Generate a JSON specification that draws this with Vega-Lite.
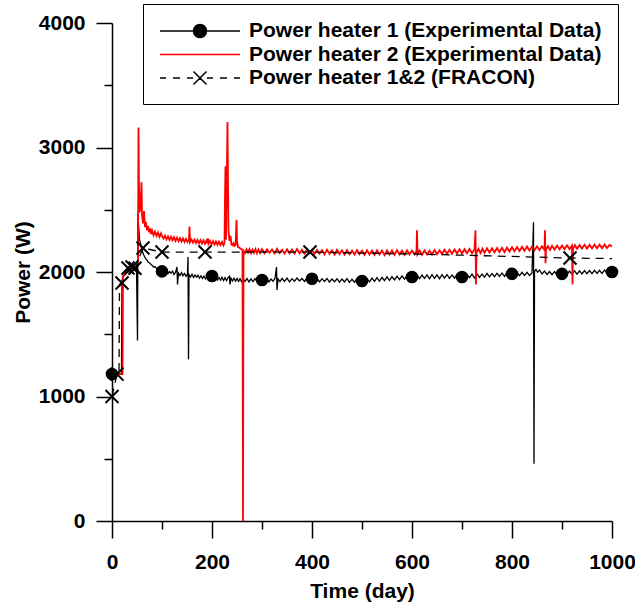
{
"$schema": "https://vega.github.io/schema/vega-lite/v6.json",
"width": 500, "height": 498,
"autosize": {"type": "none"},
"padding": {"left": 112, "top": 23, "right": 23, "bottom": 85},
"background": "white",
"config": {
  "view": {"stroke": null},
  "font": "Liberation Sans",
  "axis": {"domainColor": "black", "domainWidth": 1.5, "tickColor": "black", "tickWidth": 1.5, "labelColor": "black", "labelFont": "Liberation Sans", "labelFontSize": 21, "labelFontWeight": "bold", "titleFont": "Liberation Sans", "titleFontSize": 21, "titleFontWeight": "bold", "titleColor": "black", "grid": false, "labelFlush": false, "labelOverlap": false}
},
"datasets": {
"h1": [
{"d":0,"p":1180},{"d":5,"p":1182},{"d":10,"p":1178},{"d":15,"p":1180},{"d":19,"p":1181},{"d":20,"p":1930},{"d":22,"p":1965},{"d":25,"p":1985},{"d":28,"p":1995},{"d":31,"p":2005},{"d":34,"p":2000},{"d":37,"p":2012},{"d":40,"p":2015},{"d":43,"p":2010},{"d":46,"p":2022},{"d":49,"p":2035},{"d":51,"p":1450},{"d":52,"p":2470},{"d":53,"p":2380},{"d":55,"p":2260},{"d":57,"p":2230},{"d":59,"p":2190},{"d":61,"p":2165},{"d":63,"p":2140},{"d":65,"p":2125},{"d":67,"p":2110},{"d":70,"p":2095},{"d":72,"p":2080},{"d":75,"p":2075},{"d":78,"p":2060},{"d":80,"p":2055},{"d":83,"p":2040},{"d":86,"p":2042},{"d":89,"p":2030},{"d":92,"p":2025},{"d":95,"p":2018},{"d":98,"p":2012},
{"d":100,"p":2010},{"d":103,"p":2018},{"d":106,"p":1996},{"d":109,"p":2010},{"d":112,"p":1988},{"d":115,"p":2004},{"d":118,"p":1990},{"d":121,"p":2008},{"d":124,"p":1980},{"d":127,"p":1996},{"d":130,"p":2040},{"d":131,"p":1900},{"d":133,"p":1990},{"d":136,"p":1972},{"d":139,"p":1994},{"d":142,"p":1970},{"d":145,"p":1988},{"d":148,"p":1966},{"d":151,"p":1984},{"d":152,"p":2120},{"d":153,"p":1300},{"d":154,"p":1978},{"d":157,"p":1960},{"d":160,"p":1982},{"d":163,"p":1956},{"d":166,"p":1976},{"d":169,"p":1958},{"d":172,"p":1974},{"d":175,"p":1950},{"d":178,"p":1970},{"d":181,"p":1948},{"d":184,"p":1968},{"d":187,"p":1944},{"d":190,"p":1966},{"d":193,"p":1946},{"d":196,"p":1962},{"d":199,"p":1940},{"d":202,"p":1962},{"d":205,"p":1938},{"d":208,"p":1958},{"d":211,"p":1936},{"d":214,"p":1956},{"d":217,"p":1934},{"d":220,"p":1958},{"d":223,"p":1932},{"d":226,"p":1954},{"d":229,"p":1930},{"d":232,"p":1952},{"d":235,"p":1965},{"d":236,"p":1900},{"d":238,"p":1950},{"d":241,"p":1928},{"d":244,"p":1950},{"d":247,"p":1926},{"d":250,"p":1948},{"d":253,"p":1924},{"d":256,"p":1946},{"d":259,"p":1922},{"d":262,"p":1944},{"d":266,"p":1924},{"d":270,"p":1948},{"d":274,"p":1920},{"d":278,"p":1944},{"d":282,"p":1922},{"d":286,"p":1946},{"d":290,"p":1924},{"d":294,"p":1948},{"d":298,"p":1920},{"d":302,"p":1946},{"d":306,"p":1924},{"d":310,"p":1950},{"d":314,"p":1920},{"d":318,"p":1944},{"d":322,"p":1926},{"d":326,"p":1948},{"d":329,"p":2040},{"d":330,"p":1855},{"d":332,"p":1944},{"d":336,"p":1922},{"d":340,"p":1948},{"d":345,"p":1924},{"d":350,"p":1950},{"d":355,"p":1920},{"d":360,"p":1946},{"d":365,"p":1926},{"d":370,"p":1952},{"d":375,"p":1928},{"d":380,"p":1948},{"d":385,"p":1924},{"d":390,"p":1954},{"d":395,"p":1928},{"d":400,"p":1950},{"d":405,"p":1926},{"d":410,"p":1948},{"d":415,"p":1920},{"d":420,"p":1946},{"d":425,"p":1924},{"d":430,"p":1948},{"d":435,"p":1918},{"d":440,"p":1944},{"d":445,"p":1922},{"d":450,"p":1946},{"d":455,"p":1918},{"d":460,"p":1944},{"d":465,"p":1920},{"d":470,"p":1946},{"d":475,"p":1916},{"d":480,"p":1942},{"d":485,"p":1918},{"d":490,"p":1944},{"d":495,"p":1914},{"d":500,"p":1940},{"d":505,"p":1918},{"d":510,"p":1946},{"d":515,"p":1920},{"d":520,"p":1950},{"d":525,"p":1924},{"d":530,"p":1954},{"d":535,"p":1926},{"d":540,"p":1956},{"d":545,"p":1930},{"d":550,"p":1960},{"d":555,"p":1932},{"d":560,"p":1962},{"d":565,"p":1936},{"d":570,"p":1966},{"d":575,"p":1938},{"d":580,"p":1968},{"d":585,"p":1942},{"d":590,"p":1970},{"d":595,"p":1942},{"d":600,"p":1972},{"d":605,"p":1946},{"d":610,"p":1974},{"d":615,"p":1946},{"d":620,"p":1975},{"d":625,"p":1948},{"d":630,"p":1976},{"d":635,"p":1946},{"d":640,"p":1978},{"d":645,"p":1948},{"d":650,"p":1976},{"d":655,"p":1946},{"d":660,"p":1978},{"d":665,"p":1950},{"d":670,"p":1978},{"d":675,"p":1948},{"d":680,"p":1976},{"d":685,"p":1950},{"d":690,"p":1980},{"d":695,"p":1950},{"d":700,"p":1976},{"d":705,"p":1952},{"d":710,"p":1980},{"d":715,"p":1954},{"d":720,"p":1982},{"d":725,"p":1952},{"d":730,"p":1984},{"d":735,"p":1956},{"d":740,"p":1984},{"d":745,"p":1958},{"d":750,"p":1988},{"d":755,"p":1960},{"d":760,"p":1988},{"d":765,"p":1962},{"d":770,"p":1990},{"d":775,"p":1964},{"d":780,"p":1992},{"d":785,"p":1964},{"d":790,"p":1994},{"d":795,"p":1968},{"d":800,"p":1996},{"d":805,"p":1970},{"d":810,"p":1996},{"d":815,"p":1970},{"d":820,"p":1998},{"d":825,"p":1972},{"d":830,"p":1998},{"d":835,"p":1972},{"d":840,"p":1992},{"d":843,"p":2400},{"d":844,"p":460},{"d":845,"p":2005},{"d":848,"p":2020},{"d":851,"p":1998},{"d":855,"p":2016},{"d":860,"p":1984},{"d":865,"p":2008},{"d":870,"p":1980},{"d":875,"p":2004},{"d":880,"p":1978},{"d":885,"p":2004},{"d":890,"p":1976},{"d":895,"p":2002},{"d":900,"p":1978},{"d":905,"p":2006},{"d":910,"p":1980},{"d":915,"p":2008},{"d":920,"p":1982},{"d":925,"p":2010},{"d":930,"p":1982},{"d":935,"p":2010},{"d":940,"p":1984},{"d":945,"p":2012},{"d":950,"p":1986},{"d":955,"p":2012},{"d":960,"p":1986},{"d":965,"p":2014},{"d":970,"p":1988},{"d":975,"p":2014},{"d":980,"p":1988},{"d":985,"p":2015},{"d":990,"p":1990},{"d":995,"p":2014},{"d":1000,"p":2000}
],
"h2": [
{"d":0,"p":1180},{"d":5,"p":1178},{"d":10,"p":1182},{"d":15,"p":1180},{"d":21,"p":1180},{"d":22,"p":1960},{"d":25,"p":1978},{"d":28,"p":1990},{"d":31,"p":2000},{"d":34,"p":2008},{"d":37,"p":2015},{"d":40,"p":2020},{"d":43,"p":2028},{"d":46,"p":2035},{"d":49,"p":2045},{"d":52,"p":2100},{"d":53,"p":3160},{"d":54,"p":2700},{"d":55,"p":2480},{"d":57,"p":2520},{"d":59,"p":2720},{"d":60,"p":2460},{"d":62,"p":2390},{"d":64,"p":2490},{"d":66,"p":2360},{"d":68,"p":2400},{"d":70,"p":2335},{"d":72,"p":2370},{"d":74,"p":2320},{"d":76,"p":2350},{"d":78,"p":2305},{"d":80,"p":2335},{"d":83,"p":2295},{"d":86,"p":2325},{"d":89,"p":2290},{"d":92,"p":2318},{"d":95,"p":2282},{"d":98,"p":2310},
{"d":100,"p":2290},{"d":103,"p":2268},{"d":106,"p":2292},{"d":109,"p":2262},{"d":112,"p":2286},{"d":115,"p":2258},{"d":118,"p":2284},{"d":121,"p":2255},{"d":124,"p":2280},{"d":127,"p":2250},{"d":130,"p":2276},{"d":133,"p":2248},{"d":136,"p":2272},{"d":139,"p":2245},{"d":142,"p":2270},{"d":145,"p":2242},{"d":148,"p":2266},{"d":151,"p":2240},{"d":154,"p":2262},{"d":155,"p":2365},{"d":156,"p":2240},{"d":159,"p":2262},{"d":162,"p":2236},{"d":165,"p":2260},{"d":168,"p":2232},{"d":171,"p":2258},{"d":174,"p":2230},{"d":177,"p":2256},{"d":180,"p":2228},{"d":183,"p":2254},{"d":186,"p":2226},{"d":189,"p":2252},{"d":191,"p":2232},{"d":192,"p":2270},{"d":193,"p":2226},{"d":196,"p":2250},{"d":199,"p":2222},{"d":202,"p":2248},{"d":205,"p":2220},{"d":208,"p":2246},{"d":211,"p":2218},{"d":214,"p":2244},{"d":217,"p":2216},{"d":220,"p":2242},{"d":223,"p":2214},{"d":225,"p":2236},{"d":226,"p":2600},{"d":227,"p":2850},{"d":228,"p":2260},{"d":230,"p":2900},{"d":231,"p":3205},{"d":232,"p":2700},{"d":233,"p":2330},{"d":235,"p":2250},{"d":237,"p":2290},{"d":239,"p":2220},{"d":241,"p":2215},{"d":243,"p":2230},{"d":245,"p":2210},{"d":247,"p":2215},{"d":248,"p":2300},{"d":249,"p":2420},{"d":250,"p":2250},{"d":252,"p":2200},{"d":255,"p":2195},{"d":258,"p":2185},{"d":260,"p":2180},{"d":261,"p":2175},{"d":262,"p":0},
{"d":263,"p":2170},{"d":266,"p":2152},{"d":269,"p":2182},{"d":272,"p":2156},{"d":275,"p":2184},{"d":278,"p":2152},{"d":281,"p":2180},{"d":284,"p":2154},{"d":287,"p":2184},{"d":290,"p":2150},{"d":293,"p":2180},{"d":296,"p":2152},{"d":300,"p":2184},{"d":305,"p":2150},{"d":310,"p":2182},{"d":315,"p":2154},{"d":320,"p":2180},{"d":325,"p":2150},{"d":330,"p":2186},{"d":335,"p":2152},{"d":340,"p":2178},{"d":345,"p":2148},{"d":350,"p":2182},{"d":355,"p":2150},{"d":360,"p":2180},{"d":365,"p":2148},{"d":370,"p":2184},{"d":375,"p":2150},{"d":380,"p":2178},{"d":385,"p":2146},{"d":390,"p":2182},{"d":395,"p":2150},{"d":400,"p":2176},{"d":405,"p":2146},{"d":410,"p":2178},{"d":415,"p":2146},{"d":420,"p":2176},{"d":425,"p":2142},{"d":430,"p":2178},{"d":435,"p":2146},{"d":440,"p":2174},{"d":445,"p":2140},{"d":450,"p":2178},{"d":455,"p":2144},{"d":460,"p":2174},{"d":465,"p":2140},{"d":470,"p":2176},{"d":475,"p":2142},{"d":480,"p":2172},{"d":485,"p":2140},{"d":490,"p":2176},{"d":495,"p":2142},{"d":500,"p":2172},{"d":505,"p":2138},{"d":510,"p":2174},{"d":515,"p":2140},{"d":520,"p":2172},{"d":525,"p":2138},{"d":530,"p":2174},{"d":535,"p":2140},{"d":540,"p":2172},{"d":545,"p":2136},{"d":550,"p":2174},{"d":555,"p":2140},{"d":560,"p":2172},{"d":565,"p":2138},{"d":570,"p":2176},{"d":575,"p":2140},{"d":580,"p":2172},{"d":585,"p":2138},{"d":590,"p":2174},{"d":595,"p":2140},{"d":600,"p":2172},{"d":605,"p":2142},{"d":609,"p":2168},{"d":610,"p":2335},{"d":611,"p":2142},{"d":615,"p":2172},{"d":620,"p":2138},{"d":625,"p":2174},{"d":630,"p":2140},{"d":635,"p":2172},{"d":640,"p":2140},{"d":645,"p":2176},{"d":650,"p":2142},{"d":655,"p":2174},{"d":660,"p":2144},{"d":665,"p":2178},{"d":670,"p":2146},{"d":675,"p":2178},{"d":680,"p":2146},{"d":685,"p":2180},{"d":690,"p":2148},{"d":695,"p":2182},{"d":700,"p":2148},{"d":705,"p":2182},{"d":710,"p":2150},{"d":715,"p":2184},{"d":720,"p":2150},{"d":725,"p":2184},{"d":727,"p":2335},{"d":728,"p":1900},{"d":729,"p":2156},{"d":733,"p":2186},{"d":737,"p":2152},{"d":741,"p":2188},{"d":745,"p":2154},{"d":750,"p":2190},{"d":755,"p":2156},{"d":760,"p":2190},{"d":765,"p":2158},{"d":770,"p":2192},{"d":775,"p":2160},{"d":780,"p":2194},{"d":785,"p":2160},{"d":790,"p":2196},{"d":795,"p":2164},{"d":800,"p":2198},{"d":805,"p":2166},{"d":810,"p":2200},{"d":815,"p":2168},{"d":820,"p":2202},{"d":825,"p":2170},{"d":830,"p":2204},{"d":835,"p":2172},{"d":840,"p":2204},{"d":845,"p":2174},{"d":850,"p":2206},{"d":855,"p":2176},{"d":860,"p":2206},{"d":865,"p":2178},{"d":866,"p":2335},{"d":867,"p":2070},{"d":868,"p":2180},{"d":872,"p":2208},{"d":876,"p":2178},{"d":880,"p":2210},{"d":885,"p":2180},{"d":890,"p":2212},{"d":895,"p":2182},{"d":900,"p":2212},{"d":905,"p":2184},{"d":910,"p":2214},{"d":915,"p":2184},{"d":920,"p":2212},{"d":921,"p":1900},{"d":922,"p":2186},{"d":926,"p":2216},{"d":930,"p":2186},{"d":935,"p":2216},{"d":940,"p":2188},{"d":945,"p":2218},{"d":950,"p":2188},{"d":955,"p":2218},{"d":960,"p":2190},{"d":965,"p":2220},{"d":970,"p":2190},{"d":975,"p":2220},{"d":980,"p":2192},{"d":985,"p":2220},{"d":990,"p":2192},{"d":995,"p":2218},{"d":1000,"p":2205}
],
"fr": [
{"d":0,"p":1000},{"d":10,"p":1180},{"d":14,"p":1180},{"d":15,"p":1900},{"d":20,"p":1911},{"d":32,"p":2032},{"d":40,"p":2040},{"d":46,"p":2030},{"d":62,"p":2193},{"d":100,"p":2160},{"d":186,"p":2160},{"d":396,"p":2160},{"d":500,"p":2152},{"d":600,"p":2145},{"d":700,"p":2135},{"d":800,"p":2125},{"d":916,"p":2112},{"d":1000,"p":2108}
],
"m1": [
{"d":0,"p":1180},{"d":100,"p":2005},{"d":200,"p":1968},{"d":300,"p":1936},{"d":400,"p":1946},{"d":500,"p":1928},{"d":600,"p":1960},{"d":700,"p":1960},{"d":800,"p":1985},{"d":900,"p":1985},{"d":1000,"p":2000}
],
"frm": [
{"d":0,"p":1000},{"d":10,"p":1180},{"d":20,"p":1911},{"d":32,"p":2032},{"d":40,"p":2040},{"d":46,"p":2030},{"d":62,"p":2193},{"d":100,"p":2160},{"d":186,"p":2160},{"d":396,"p":2160},{"d":916,"p":2112}
]
},
"resolve": {"axis": {"x": "independent", "y": "independent"}},
"layer": [
{"data": {"name": "h1"}, "mark": {"type": "line", "color": "black", "strokeWidth": 1.3},
 "encoding": {
  "x": {"field": "d", "type": "quantitative", "scale": {"domain": [0, 1000], "nice": false}, "axis": {"orient": "bottom", "values": [0,200,400,600,800,1000], "tickSize": 17, "title": "Time (day)", "labelPadding": 13, "titlePadding": 8, "format": "d"}},
  "y": {"field": "p", "type": "quantitative", "scale": {"domain": [0, 4000], "nice": false}, "axis": {"orient": "left", "values": [0,1000,2000,3000,4000], "tickSize": 16, "title": "Power (W)", "labelPadding": 11, "titlePadding": 5, "format": "d"}}
 }},
{"data": {"name": "h2"}, "mark": {"type": "line", "color": "#ff0000", "strokeWidth": 1.8},
 "encoding": {
  "x": {"field": "d", "type": "quantitative", "axis": {"orient": "bottom", "values": [100,300,500,700,900], "tickSize": 8, "labels": false, "domain": false, "title": null}},
  "y": {"field": "p", "type": "quantitative", "axis": {"orient": "left", "values": [500,1500,2500,3500], "tickSize": 8, "labels": false, "domain": false, "title": null}}
 }},
{"data": {"name": "fr"}, "mark": {"type": "line", "color": "black", "strokeWidth": 1.3, "strokeDash": [8, 6]},
 "encoding": {
  "x": {"field": "d", "type": "quantitative", "axis": null},
  "y": {"field": "p", "type": "quantitative", "axis": null}
 }},
{"data": {"name": "m1"}, "mark": {"type": "point", "shape": "circle", "filled": true, "color": "black", "opacity": 1, "size": 160},
 "encoding": {
  "x": {"field": "d", "type": "quantitative", "axis": null},
  "y": {"field": "p", "type": "quantitative", "axis": null}
 }},
{"data": {"name": "frm"}, "mark": {"type": "point", "shape": "M-1,-1L1,1M-1,1L1,-1", "filled": false, "color": "black", "strokeWidth": 2, "opacity": 1, "size": 169},
 "encoding": {
  "x": {"field": "d", "type": "quantitative", "axis": null},
  "y": {"field": "p", "type": "quantitative", "axis": null}
 }},
{"data": {"values": []}, "mark": {"type": "point", "filled": true, "opacity": 1, "size": 400, "strokeWidth": 1.5},
 "encoding": {
  "shape": {"field": "s", "type": "nominal",
    "scale": {"domain": ["Power heater 1 (Experimental Data)", "Power heater 2 (Experimental Data)", "Power heater 1&2 (FRACON)"],
      "range": ["M-1,0H7M3.65,0A0.65,0.65,0,1,1,2.35,0A0.65,0.65,0,1,1,3.65,0Z", "M-1,0H7", "M-1,0H-0.4M0.3,0H1M1.7,0H2.3M3.7,0H4.3M5,0H5.7M6.4,0H7M2.35,-0.65L3.65,0.65M2.35,0.65L3.65,-0.65"]},
    "legend": {"title": null, "orient": "none", "legendX": 31, "legendY": -19, "strokeColor": "black", "fillColor": "white", "padding": 16, "labelFont": "Liberation Sans", "labelFontSize": 21, "labelFontWeight": "bold", "labelColor": "black", "labelOffset": 68, "symbolOffset": 0, "symbolSize": 400, "symbolStrokeWidth": 1.5, "rowPadding": 2.5, "labelLimit": 600}},
  "fill": {"field": "s", "type": "nominal",
    "scale": {"domain": ["Power heater 1 (Experimental Data)", "Power heater 2 (Experimental Data)", "Power heater 1&2 (FRACON)"], "range": ["black", "#ff0000", "black"]},
    "legend": {"title": null, "orient": "none", "legendX": 31, "legendY": -19, "strokeColor": "black", "fillColor": "white", "padding": 16, "labelFont": "Liberation Sans", "labelFontSize": 21, "labelFontWeight": "bold", "labelColor": "black", "labelOffset": 68, "symbolOffset": 0, "symbolSize": 400, "symbolStrokeWidth": 1.5, "rowPadding": 2.5, "labelLimit": 600}},
  "stroke": {"field": "s", "type": "nominal",
    "scale": {"domain": ["Power heater 1 (Experimental Data)", "Power heater 2 (Experimental Data)", "Power heater 1&2 (FRACON)"], "range": ["black", "#ff0000", "black"]},
    "legend": {"title": null, "orient": "none", "legendX": 31, "legendY": -19, "strokeColor": "black", "fillColor": "white", "padding": 16, "labelFont": "Liberation Sans", "labelFontSize": 21, "labelFontWeight": "bold", "labelColor": "black", "labelOffset": 68, "symbolOffset": 0, "symbolSize": 400, "symbolStrokeWidth": 1.5, "rowPadding": 2.5, "labelLimit": 600}}
 }}
]
}
